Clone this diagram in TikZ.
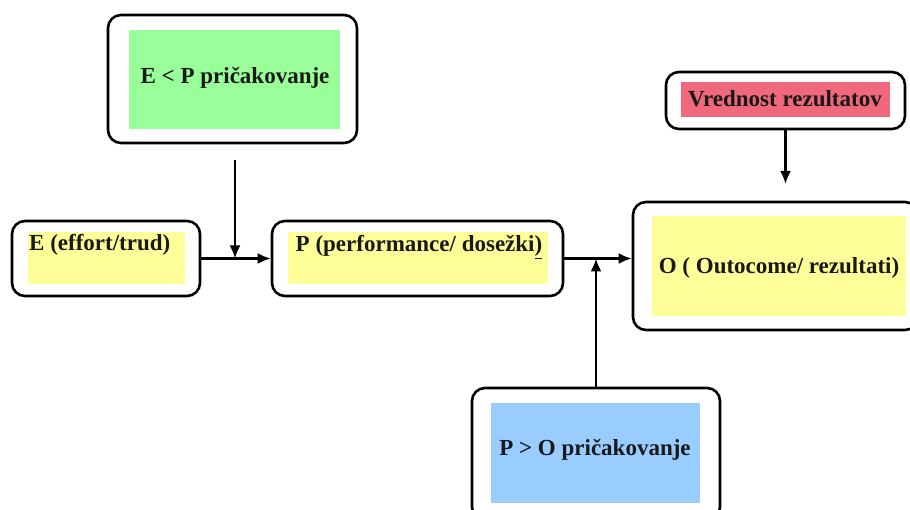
\documentclass[tikz,border=0pt]{standalone}
\usepackage{fontspec}
\setmainfont{Liberation Serif}
\usepackage{tikz}
\usetikzlibrary{calc}
\usetikzlibrary{arrows.meta}
\definecolor{pyellow}{RGB}{255,255,153}
\definecolor{pgreen}{RGB}{153,255,153}
\definecolor{pred}{RGB}{240,104,124}
\definecolor{pblue}{RGB}{153,204,255}

\begin{document}
\begin{tikzpicture}[x=1pt,y=-1pt]
\tikzstyle{outbox}=[rectangle,rounded corners=13pt,draw,line width=2.6pt,fill=white,inner sep=0pt]
\tikzstyle{inbox}=[rectangle,draw=none,inner sep=0pt]
\tikzstyle{lbl}=[inner sep=0pt,font=\fontsize{23}{27}\selectfont\bfseries,text=black!90]

\useasboundingbox (0,0) rectangle (910,510);

% outer frames
\node [outbox, minimum width=188, minimum height=75] (Eout) at (106,258.5) {};
\node [outbox, minimum width=291, minimum height=75] (Pout) at (417.5,258.5) {};
\node [outbox, minimum width=285, minimum height=128] (Oout) at (775.5,266) {};
\node [outbox, minimum width=249, minimum height=128] (EPout) at (232.5,79) {};
\node [outbox, minimum width=239, minimum height=57] (Vout) at (785.5,100.5) {};
\node [outbox, minimum width=248, minimum height=132] (POout) at (596,454) {};

% coloured fields
\node [inbox, fill=pyellow, minimum width=157, minimum height=52] (Ein) at (106.5,258) {};
\node [inbox, fill=pyellow, minimum width=260, minimum height=52] (Pin) at (418,258) {};
\node [inbox, fill=pyellow, minimum width=254, minimum height=100] (Oin) at (779,266) {};
\node [inbox, fill=pgreen, minimum width=211, minimum height=99] (EPin) at (234.5,79.5) {};
\node [inbox, fill=pred, minimum width=209, minimum height=35] (Vin) at (785.5,99.5) {};
\node [inbox, fill=pblue, minimum width=209, minimum height=100] (POin) at (595.5,453) {};

% texts
\node [lbl, anchor=west] (Etxt) at (29,245) {E (effort/trud)};
\node [lbl] (Ptxt) at (419,247) {P (performance/ dosežki\underline{)}};
\node [lbl] (Otxt) at (779,268) {O ( Outocome/ rezultati)};
\node [lbl] (EPtxt) at (235,78) {E < P pričakovanje};
\node [lbl] (Vtxt) at (785,99) {Vrednost rezultatov};
\node [lbl] (POtxt) at (595,450) {P > O pričakovanje};

\coordinate (EPtail) at (235,160);
\coordinate (EPhead) at (235,258.5);
\coordinate (Vhead) at (785.5,184);

\draw[->,line width=2.2pt,>={Latex[length=13pt,width=11pt]}] (Eout.east) -- (Pout.west);
\draw[->,line width=2.2pt,>={Latex[length=13pt,width=11pt]}] (EPtail) -- (EPhead);
\draw[->,line width=2.2pt,>={Latex[length=13pt,width=11pt]}] (Pout.east) -- (Pout.east -| Oout.west);
\draw[->,line width=2.2pt,>={Latex[length=13pt,width=11pt]}] (POout.north) -- (POout.north |- Pout.east);
\draw[->,line width=2.2pt,>={Latex[length=13pt,width=11pt]}] (Vout.south) -- (Vhead);

\end{tikzpicture}
\end{document}
